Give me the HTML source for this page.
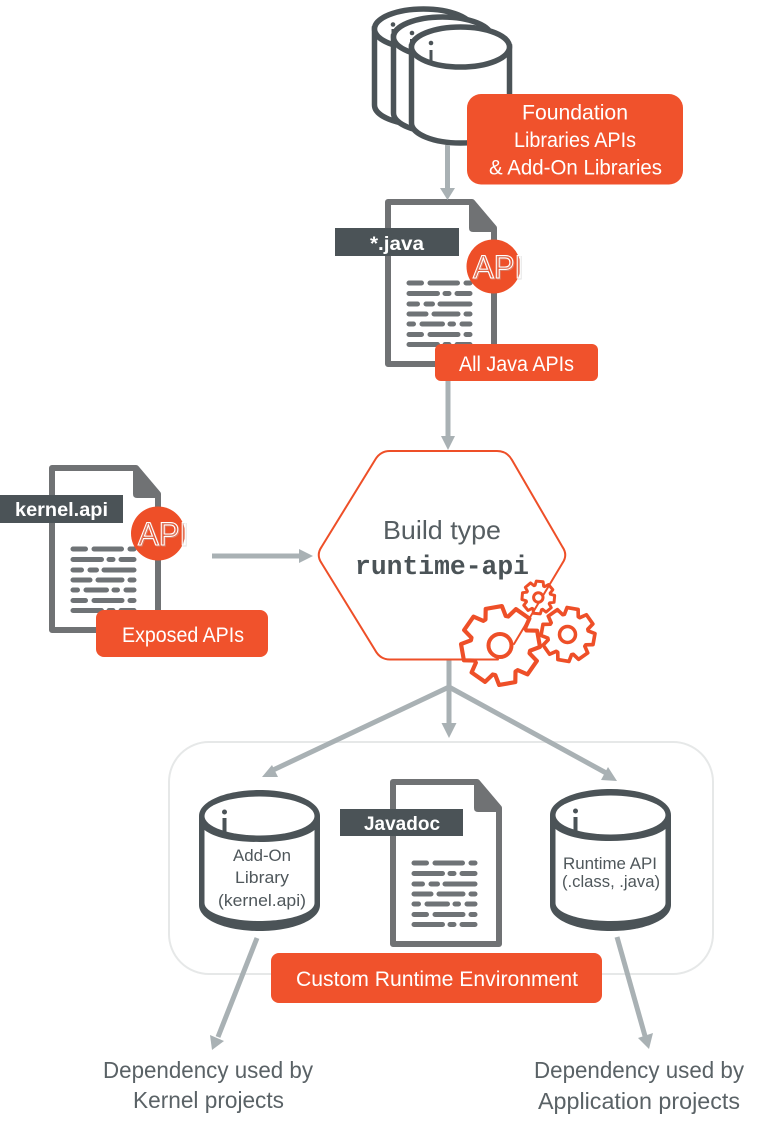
<!DOCTYPE html>
<html>
<head>
<meta charset="utf-8">
<style>
html,body{margin:0;padding:0;background:#fff}
svg{display:block}
text{font-family:"Liberation Sans",sans-serif}
.w{fill:#fff;font-size:21px}
.g{fill:#5a6266;font-size:23px}
.c{fill:#4f575b;font-size:17px}
.l{fill:#fff;font-size:19px;font-weight:bold}
.a{font-size:32px;fill:none;stroke:#fff;stroke-width:1.1}
.as{font-size:32px;fill:none;stroke:#bbb;stroke-width:1;opacity:.45}
</style>
</head>
<body>
<svg width="764" height="1132" viewBox="0 0 764 1132" xmlns="http://www.w3.org/2000/svg">
<defs>
<g id="doc">
  <path d="M3 3H87L109 29V165H3Z" fill="#fff" stroke="#707274" stroke-width="6" stroke-linejoin="round"/>
  <path d="M84 3H88L112 30V33H88Q84 33 84 29Z" fill="#707274"/>
  <path fill="none" stroke="#6f7376" stroke-width="5" stroke-linecap="round" d="M24 84H36.500M45 84H72.500M81 84H85M24 94.500H52.500M60 94.500H64M72 94.500H85M24 105H32.500M41 105H47.500M55 105H85M24 115H41M49 115H73M81 115H85M24 125H28.500M37 125H57.500M65 125H68.500M77 125H85M24 135.500H36.500M45 135.500H73M81 135.500H85M24 145.500H52.500M60 145.500H64M72 145.500H85"/>
</g>
<path id="gear" d="M71.400 -26L97.800 -20.800L97.800 20.800L71.400 26L68.900 32.100L83.900 54.500L54.500 83.900L32.100 68.900L26 71.400L20.800 97.800L-20.800 97.800L-26 71.400L-32.100 68.900L-54.500 83.900L-83.900 54.500L-68.900 32.100L-71.400 26L-97.800 20.800L-97.800 -20.800L-71.400 -26L-68.900 -32.100L-83.900 -54.500L-54.500 -83.900L-32.100 -68.900L-26 -71.400L-20.800 -97.800L20.800 -97.800L26 -71.400L32.100 -68.900L54.500 -83.900L83.900 -54.500L68.900 -32.100Z" fill="none" stroke="#ee4f28" stroke-linejoin="round"/>
</defs>

<!-- outer runtime container -->
<rect x="169" y="742" width="544" height="232" rx="40" ry="40" fill="#fff" stroke="#e6e8e8" stroke-width="2"/>

<!-- top stacked cylinders -->
<g stroke="#4b5357" stroke-width="5.500" fill="#fff">
  <path d="M374.500 29V105C374.500 116 396 125 423.500 125C451 125 472.500 116 472.500 105V29Z"/>
  <ellipse cx="423.500" cy="29" rx="49" ry="20"/>
  <path d="M393.500 37V113C393.500 124 415 133 442.500 133C470 133 491.500 124 491.500 113V37Z"/>
  <ellipse cx="442.500" cy="37" rx="49" ry="20"/>
  <path d="M411.500 47V123C411.500 134 433 143 460.500 143C488 143 509.500 134 509.500 123V47Z"/>
  <ellipse cx="460.500" cy="47" rx="49" ry="20"/>
</g>
<g fill="#4b5357">
  <circle cx="393" cy="24.500" r="2.300"/>
  <circle cx="412" cy="33" r="2.300"/>
  <circle cx="431" cy="43" r="2.300"/>
  <rect x="429.500" y="50" width="3" height="12"/>
  <rect x="391.500" y="29" width="3" height="4"/>
  <rect x="410" y="39" width="3" height="8"/>
</g>

<!-- docs -->
<use href="#doc" x="385" y="199"/>
<use href="#doc" x="49" y="465"/>
<use href="#doc" x="390" y="779"/>

<!-- arrows -->
<g fill="#a9b1b4" stroke="none">
  <rect x="445" y="145" width="5" height="45"/>
  <path d="M440 188H455L447.500 200Z"/>
  <rect x="445.500" y="381" width="5" height="57"/>
  <path d="M441 436H455L448 450Z"/>
  <rect x="212" y="553.500" width="90" height="5"/>
  <path d="M299 549L313 556L299 563Z"/>
  <rect x="446.500" y="660" width="5" height="65"/>
  <path d="M441.500 723H456.500L449 738Z"/>
  <path d="M262 777L272 765L278 777Z"/>
  <path d="M617 781L608 767L601 780Z"/>
  <path d="M212 1050L210 1035L224 1041Z"/>
  <path d="M649 1049L638 1038L653 1033Z"/>
</g>
<g stroke="#a9b1b4" stroke-width="5" fill="none">
  <path d="M449 687L271 771"/>
  <path d="M449 687L608 774"/>
  <path d="M257 938L218 1037"/>
  <path d="M617 937L645 1036"/>
</g>

<!-- hexagon -->
<path d="M498 659.500H390Q380 659.500 375 650L321.500 563Q316 555 321.500 547L375 460Q380 451 390 451H497Q507 451 512 460L562.500 547Q568 555 562.500 563L514 644" fill="#fff" stroke="#ee4f28" stroke-width="2" stroke-linecap="round"/>
<text x="383" y="539" textLength="118" lengthAdjust="spacingAndGlyphs" style="font-size:26px;fill:#565e62">Build type</text>
<text x="355" y="574" textLength="174" lengthAdjust="spacingAndGlyphs" style="font-family:'Liberation Mono',monospace;font-weight:bold;font-size:26.400px;fill:#4b5357">runtime-api</text>

<!-- gears -->
<g transform="translate(500.500 645.500) rotate(-10) scale(.395)" stroke-width="10.500"><use href="#gear"/></g>
<circle cx="500" cy="645.500" r="11.500" fill="#fff" stroke="#ee4f28" stroke-width="4"/>
<g transform="translate(568 634.500) rotate(10) scale(.27)" stroke-width="13.500"><use href="#gear"/></g>
<circle cx="567.500" cy="634.500" r="8" fill="#fff" stroke="#ee4f28" stroke-width="3.500"/>
<g transform="translate(538.300 597.500) rotate(5) scale(.165)" stroke-width="18"><use href="#gear"/></g>
<circle cx="538.300" cy="597.500" r="4.700" fill="#fff" stroke="#ee4f28" stroke-width="3"/>

<!-- dark labels -->
<rect x="335" y="228" width="124" height="28" fill="#4b5357"/>
<text class="l" x="370" y="250" textLength="54" lengthAdjust="spacingAndGlyphs">*.java</text>
<rect x="0" y="495" width="123" height="28" fill="#4b5357"/>
<text class="l" x="15" y="516" textLength="93" lengthAdjust="spacingAndGlyphs">kernel.api</text>
<rect x="340" y="809" width="123" height="27" fill="#4b5357"/>
<text class="l" x="364" y="830" textLength="76" lengthAdjust="spacingAndGlyphs">Javadoc</text>

<!-- API badges -->
<circle cx="493.500" cy="266.500" r="27" fill="#ee4f28"/>
<text class="as" x="474" y="279" textLength="50" lengthAdjust="spacingAndGlyphs">API</text>
<text class="a" x="473" y="278" textLength="50" lengthAdjust="spacingAndGlyphs">API</text>
<circle cx="158" cy="533.500" r="27" fill="#ee4f28"/>
<text class="as" x="139" y="546" textLength="50" lengthAdjust="spacingAndGlyphs">API</text>
<text class="a" x="138" y="545" textLength="50" lengthAdjust="spacingAndGlyphs">API</text>

<!-- cylinders -->
<g fill="#4b5357">
  <path d="M199 816C199 801 226 790 259.500 790C293 790 320 801 320 816V905C320 920 293 931 259.500 931C226 931 199 920 199 905Z"/>
  <path d="M204.500 830C215 838 235 842 259.500 842C284 842 304 838 314.500 830V903C314.500 913 290 921 259.500 921C229 921 204.500 913 204.500 903Z" fill="#fff"/>
  <ellipse cx="259.500" cy="816" rx="55" ry="19.500" fill="#fff"/>
  <path d="M550 815C550 800 577 789 610.500 789C644 789 671 800 671 815V905C671 920 644 931 610.500 931C577 931 550 920 550 905Z"/>
  <path d="M555.500 829C566 837 586 841 610.500 841C635 841 655 837 665.500 829V903C665.500 913 641 921 610.500 921C580 921 555.500 913 555.500 903Z" fill="#fff"/>
  <ellipse cx="610.500" cy="815" rx="55" ry="19.500" fill="#fff"/>
  <circle cx="224.500" cy="812" r="2.500"/>
  <rect x="222.500" y="818" width="4" height="17"/>
  <circle cx="575.500" cy="811" r="2.500"/>
  <rect x="573.500" y="817" width="4" height="17"/>
</g>
<text class="c" x="233" y="861" textLength="58" lengthAdjust="spacingAndGlyphs">Add-On</text>
<text class="c" x="235" y="883" textLength="54" lengthAdjust="spacingAndGlyphs">Library</text>
<text class="c" x="218" y="906" textLength="88" lengthAdjust="spacingAndGlyphs">(kernel.api)</text>
<text class="c" x="563" y="869" textLength="94" lengthAdjust="spacingAndGlyphs">Runtime API</text>
<text class="c" x="562" y="887" textLength="98" lengthAdjust="spacingAndGlyphs">(.class, .java)</text>

<!-- orange boxes -->
<rect x="467" y="94" width="216" height="90.500" rx="14" fill="#f0522c"/>
<text class="w" x="522" y="119.500" textLength="106" lengthAdjust="spacingAndGlyphs">Foundation</text>
<text class="w" x="514" y="147" textLength="122" lengthAdjust="spacingAndGlyphs">Libraries APIs</text>
<text class="w" x="489" y="174.500" textLength="173" lengthAdjust="spacingAndGlyphs">&amp; Add-On Libraries</text>
<rect x="435" y="344" width="163" height="37" rx="6" fill="#f0522c"/>
<text class="w" x="459" y="371" textLength="115" lengthAdjust="spacingAndGlyphs">All Java APIs</text>
<rect x="96" y="610" width="172" height="47" rx="8" fill="#f0522c"/>
<text class="w" x="122" y="642" textLength="122" lengthAdjust="spacingAndGlyphs">Exposed APIs</text>
<rect x="271" y="953" width="331" height="50" rx="8" fill="#f0522c"/>
<text class="w" x="296" y="986" textLength="282" lengthAdjust="spacingAndGlyphs">Custom Runtime Environment</text>

<!-- bottom captions -->
<text class="g" x="103" y="1078" textLength="210" lengthAdjust="spacingAndGlyphs">Dependency used by</text>
<text class="g" x="133" y="1108" textLength="151" lengthAdjust="spacingAndGlyphs">Kernel projects</text>
<text class="g" x="534" y="1078" textLength="210" lengthAdjust="spacingAndGlyphs">Dependency used by</text>
<text class="g" x="538" y="1109" textLength="202" lengthAdjust="spacingAndGlyphs">Application projects</text>
</svg>
</body>
</html>
